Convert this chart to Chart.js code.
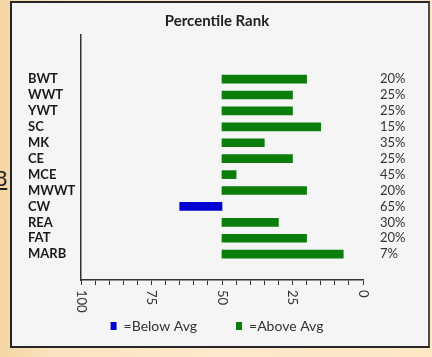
<!DOCTYPE html>
<html><head><meta charset="utf-8">
<script src="https://cdn.jsdelivr.net/npm/chart.js@4.4.1/dist/chart.umd.min.js"></script>
<style>
html,body{margin:0;padding:0;}
body{width:432px;height:357px;overflow:hidden;position:relative;
 background:linear-gradient(90deg,#f5d6a3 0%,#fae3bf 12%,#fde9cc 50%,#fce6c4 100%);}
#panel{position:absolute;left:10px;top:1px;width:416px;height:343px;border:2px solid #262626;border-right-color:#4a4a4a;background:#f5f5f5;}
#mark{position:absolute;left:-5px;top:166px;font:22px 'Liberation Sans',sans-serif;text-decoration:underline;color:#222;}
#wrap{position:absolute;left:0;top:0;width:432px;height:357px;}
</style></head>
<body>
<div id="mark">8</div>
<div id="panel"></div>
<div id="wrap"><canvas id="c"></canvas></div>
<script>
const categories = ['BWT','WWT','YWT','SC','MK','CE','MCE','MWWT','CW','REA','FAT','MARB'];
const percentiles = [20,25,25,15,35,25,45,20,65,30,20,7];
const rankLabels = ['20%','25%','25%','15%','35%','25%','45%','20%','65%','30%','20%','7%'];
const xTickLabels = [100,75,50,25,0];
const average = 50;
const legendNames = ['=Below Avg','=Above Avg'];

const belowData = [];
const aboveData = [];
percentiles.forEach((v,i)=>{
  if (v > average) belowData.push({y:i, x:[average, v]});
  else aboveData.push({y:i, x:[average, v]});
});

const fixTicks = (scale)=>{ scale.ticks = categories.map((c,i)=>({value:i})); };

const xLabelPlugin = {
  id:'xLabels',
  afterDraw(chart){
    const s = chart.scales.x, ctx = chart.ctx;
    ctx.save();
    ctx.font = '13px Lato';
    ctx.fillStyle = '#333';
    ctx.textAlign = 'left';
    ctx.textBaseline = 'middle';
    xTickLabels.forEach(v=>{
      const px = s.getPixelForValue(v);
      ctx.save();
      ctx.translate(px, s.top + 10);
      ctx.rotate(Math.PI/2);
      ctx.fillText(String(v), 0, 0);
      ctx.restore();
    });
    ctx.restore();
  }
};

new Chart(document.getElementById('c'), {
  type:'bar',
  data:{
    datasets:[
      {label:legendNames[0], data:belowData, backgroundColor:'#0000d0', borderWidth:0, grouped:false, barThickness:8},
      {label:legendNames[1], data:aboveData, backgroundColor:'#0a7d0a', borderWidth:0, grouped:false, barThickness:8}
    ]
  },
  options:{
    indexAxis:'y',
    responsive:true,
    maintainAspectRatio:false,
    animation:false,
    layout:{padding:{left:28, right:26, top:0, bottom:14}},
    scales:{
      x:{
        type:'linear', reverse:true, min:0, max:100,
        ticks:{display:false, stepSize:5},
        grid:{display:true, drawOnChartArea:false, drawTicks:true, tickLength:5, color:'#333', lineWidth:1},
        border:{display:true, color:'#333', width:1.5},
        afterFit(s){ s.height = 0; }
      },
      y:{
        type:'linear', reverse:true, min:-2.13, max:11.98, position:'left',
        afterBuildTicks: fixTicks,
        ticks:{crossAlign:'far', autoSkip:false, color:'#1a1a1a', font:{family:'Lato', size:13, weight:'bold'},
          callback:(v)=>categories[v]},
        grid:{display:false, drawTicks:false},
        border:{display:true, color:'#333', width:1.5},
        afterFit(s){ s.width = 53; }
      },
      y2:{
        type:'linear', reverse:true, min:-2.13, max:11.98, position:'right',
        afterBuildTicks: fixTicks,
        ticks:{padding:17, autoSkip:false, color:'#333', font:{family:'Lato', size:13},
          callback:(v)=>rankLabels[v]},
        grid:{display:false, drawTicks:false},
        border:{display:false},
        afterFit(s){ s.width = 43; }
      }
    },
    plugins:{
      title:{display:true, text:'Percentile Rank', color:'#222', font:{family:'Lato', size:15, weight:'bold'}, padding:{top:12, bottom:5}},
      legend:{position:'bottom', labels:{boxWidth:6, boxHeight:8, padding:39, color:'#333', font:{family:'Lato', size:14}}},
      tooltip:{enabled:false}
    }
  },
  plugins:[xLabelPlugin]
});
</script>
</body></html>
